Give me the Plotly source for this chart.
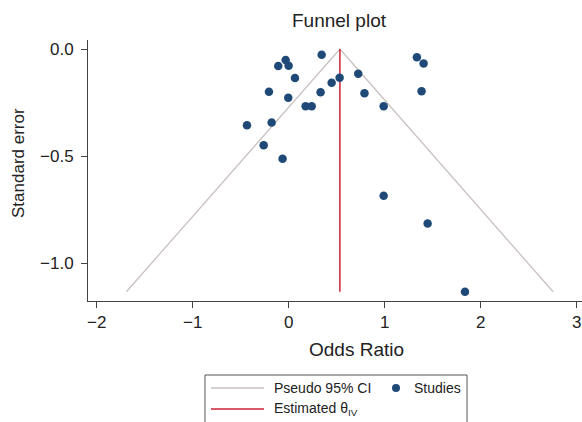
import plotly.graph_objects as go

# Study effect estimates (x) and negative standard errors (y)
study_x = [0.344, -0.031, -0.108, 0.0, 0.066, -0.205, -0.004, 0.333, 0.448, 0.531,
           0.725, 0.79, 0.99, 0.177, 0.24, 1.336, 1.406, 1.385, -0.434, -0.177,
           -0.26, -0.063, 0.99, 1.448, 1.837]
study_y = [-0.027, -0.051, -0.079, -0.078, -0.135, -0.200, -0.227, -0.202, -0.158, -0.134,
           -0.115, -0.206, -0.267, -0.267, -0.267, -0.039, -0.068, -0.197, -0.356, -0.343,
           -0.449, -0.512, -0.685, -0.814, -1.133]

# Pseudo 95% CI funnel and pooled estimate
ci_x = [-1.69, 0.534, 2.755]
ci_y = [-1.133, 0.0, -1.133]
est_x = [0.534, 0.534]
est_y = [0.0, -1.133]

x_ticks = [-2, -1, 0, 1, 2, 3]
y_ticks = [0.0, -0.5, -1.0]

FONT = "Liberation Sans, Arial, sans-serif"
NAVY = "#1f4a78"
CI_COL = "#c9c0bf"
RED = "#cc2233"
AX = "#444444"

fig = go.Figure()
fig.add_trace(go.Scatter(x=ci_x, y=ci_y, mode="lines",
                         line=dict(color=CI_COL, width=1.3), showlegend=False,
                         name="Pseudo 95% CI"))
fig.add_trace(go.Scatter(x=est_x, y=est_y, mode="lines",
                         line=dict(color=RED, width=1.5), showlegend=False,
                         name="Estimated θIV"))
fig.add_trace(go.Scatter(x=study_x, y=study_y, mode="markers",
                         marker=dict(color=NAVY, size=8.5), showlegend=False,
                         name="Studies"))

W, H = 582, 422
L, R, T, B = 88, 0, 40, 121
pw = W - L - R
ph = H - T - B


def paper_x(xp):
    return (xp - L) / pw


def paper_y(yp):
    return (H - B - yp) / ph


shapes = []
annotations = []
TXT = "#222222"

# Legend box (cut off at bottom like the reference)
shapes.append(dict(type="rect", xref="paper", yref="paper",
                   x0=paper_x(205), x1=paper_x(467), y0=paper_y(440), y1=paper_y(375),
                   line=dict(color="#555555", width=1), fillcolor="white", layer="above"))
shapes.append(dict(type="line", xref="paper", yref="paper",
                   x0=paper_x(211), x1=paper_x(264), y0=paper_y(388), y1=paper_y(388),
                   line=dict(color=CI_COL, width=1.3)))
shapes.append(dict(type="line", xref="paper", yref="paper",
                   x0=paper_x(211), x1=paper_x(264), y0=paper_y(409), y1=paper_y(409),
                   line=dict(color=RED, width=1.5)))
shapes.append(dict(type="circle", xref="paper", yref="paper",
                   x0=paper_x(392), x1=paper_x(400), y0=paper_y(392), y1=paper_y(384),
                   line=dict(color=NAVY, width=0), fillcolor=NAVY))

annotations.append(dict(text="Pseudo 95% CI", xref="paper", yref="paper",
                        x=paper_x(272), y=paper_y(388), xanchor="left", yanchor="middle",
                        showarrow=False, font=dict(family=FONT, size=14, color=TXT)))
annotations.append(dict(text="Studies", xref="paper", yref="paper",
                        x=paper_x(412), y=paper_y(388), xanchor="left", yanchor="middle",
                        showarrow=False, font=dict(family=FONT, size=14, color=TXT)))
annotations.append(dict(text="Estimated θ<sub>IV</sub>", xref="paper", yref="paper",
                        x=paper_x(272), y=paper_y(409), xanchor="left", yanchor="middle",
                        showarrow=False, font=dict(family=FONT, size=14, color=TXT)))

# Titles
annotations.append(dict(text="Funnel plot", xref="paper", yref="paper",
                        x=paper_x(339), y=paper_y(20), xanchor="center", yanchor="middle",
                        showarrow=False, font=dict(family=FONT, size=19, color=TXT)))
annotations.append(dict(text="Odds Ratio", xref="paper", yref="paper",
                        x=paper_x(356), y=paper_y(349), xanchor="center", yanchor="middle",
                        showarrow=False, font=dict(family=FONT, size=19, color=TXT)))
annotations.append(dict(text="Standard error", xref="paper", yref="paper",
                        x=paper_x(18), y=paper_y(163), xanchor="center", yanchor="middle",
                        textangle=-90,
                        showarrow=False, font=dict(family=FONT, size=17, color=TXT)))

fig.update_layout(
    width=W, height=H,
    margin=dict(l=L, r=R, t=T, b=B),
    paper_bgcolor="white", plot_bgcolor="white",
    font=dict(family=FONT, size=17, color=TXT),
    shapes=shapes, annotations=annotations,
    showlegend=False,
)
fig.update_xaxes(range=[-2.09, 3.056], tickvals=x_ticks, ticks="outside", ticklen=6,
                 tickcolor=AX, showline=True, linecolor=AX, linewidth=1,
                 showgrid=False, zeroline=False, tickfont=dict(size=17))
fig.update_yaxes(range=[-1.176, 0.042], tickvals=y_ticks, tickformat=".1f",
                 ticks="outside", ticklen=6, tickcolor=AX, showline=True,
                 linecolor=AX, linewidth=1, showgrid=False, zeroline=False,
                 tickfont=dict(size=17), ticklabelstandoff=4)

fig.write_html("out.html",
               config={"displayModeBar": False},
               post_script="document.body.style.margin='0';document.body.style.overflow='hidden';")
